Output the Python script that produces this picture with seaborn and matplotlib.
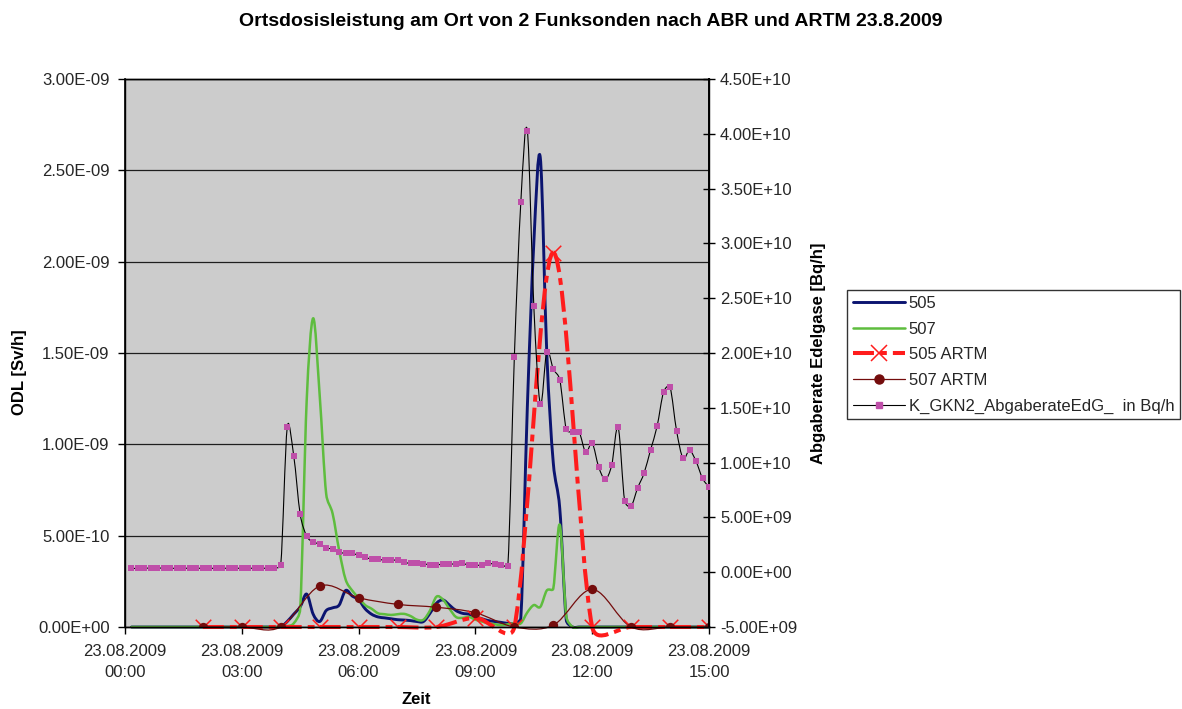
import numpy as np
import pandas as pd
import matplotlib
matplotlib.use("Agg")
import matplotlib.pyplot as plt
import matplotlib.dates as mdates
from matplotlib.path import Path
from matplotlib.patches import PathPatch
from matplotlib.lines import Line2D
from matplotlib.ticker import FuncFormatter, MultipleLocator
import seaborn as sns

# ---------------------------------------------------------------- data
# 10-minute readings of the two radio probes (nSv/h) and the release rate (1e10 Bq/h)
zeit_10min = pd.date_range("2009-08-23 00:10", "2009-08-23 15:00", freq="10min")

odl_505 = [
    0, 0, 0, 0, 0, 0, 0, 0, 0, 0, 0, 0,
    0, 0, 0, 0, 0, 0, 0, 0, 0, 0, 0, 0,
    0.03, 0.07, 0.11, 0.18, 0.07, 0.03, 0.09, 0.105, 0.12, 0.20, 0.17, 0.15,
    0.10, 0.07, 0.055, 0.05, 0.045, 0.04, 0.038, 0.035, 0.03, 0.03, 0.075, 0.13,
    0.148, 0.12, 0.09, 0.075, 0.07, 0.056, 0.045, 0.035, 0.03, 0.025, 0.02, 0.02,
    0.05, 1.20, 2.10, 2.57, 1.50, 0.90, 0.65, 0.04, 0, 0, 0, 0,
    0, 0, 0, 0, 0, 0, 0, 0, 0, 0, 0, 0,
    0, 0, 0, 0, 0, 0,
]

odl_507 = [
    0, 0, 0, 0, 0, 0, 0, 0, 0, 0, 0, 0,
    0, 0, 0, 0, 0, 0, 0, 0, 0, 0, 0, 0,
    0.005, 0.02, 0.10, 1.24, 1.69, 1.27, 0.73, 0.62, 0.42, 0.26, 0.20, 0.16,
    0.12, 0.10, 0.075, 0.07, 0.066, 0.07, 0.072, 0.06, 0.04, 0.04, 0.09, 0.166,
    0.15, 0.10, 0.055, 0.05, 0.055, 0.04, 0.03, 0.02, 0.015, 0.01, 0.015, 0.02,
    0.02, 0.08, 0.12, 0.11, 0.20, 0.21, 0.56, 0.06, 0, 0, 0, 0,
    0, 0, 0, 0, 0, 0, 0, 0, 0, 0, 0, 0,
    0, 0, 0, 0, 0, 0,
]

abgaberate = [
    0.035, 0.034, 0.036, 0.038, 0.039, 0.036, 0.036, 0.035, 0.036, 0.036, 0.036, 0.036,
    0.036, 0.035, 0.036, 0.036, 0.036, 0.036, 0.036, 0.036, 0.036, 0.036, 0.036, 0.066,
    1.322, 1.063, 0.528, 0.330, 0.273, 0.260, 0.224, 0.209, 0.180, 0.175, 0.172, 0.154,
    0.136, 0.120, 0.118, 0.109, 0.109, 0.109, 0.090, 0.081, 0.081, 0.078, 0.066, 0.063,
    0.078, 0.078, 0.072, 0.081, 0.063, 0.063, 0.066, 0.081, 0.072, 0.069, 0.057, 1.961,
    3.375, 4.030, 2.429, 1.535, 2.012, 1.854, 1.757, 1.304, 1.276, 1.276, 1.094, 1.176,
    0.960, 0.848, 0.975, 1.322, 0.652, 0.604, 0.768, 0.905, 1.118, 1.331, 1.644, 1.687,
    1.291, 1.039, 1.112, 1.012, 0.857, 0.775,
]

# hourly ARTM model results (nSv/h)
zeit_1h = pd.date_range("2009-08-23 02:00", "2009-08-23 15:00", freq="h")
artm_505 = [0, 0, 0, 0, 0, 0, 0, 0.05, 0, 2.05, 0, 0, 0, 0]
artm_507 = [0, 0, 0, 0.224, 0.16, 0.124, 0.108, 0.078, 0, 0.01, 0.206, 0, 0, 0]

NSV = 1e-9
E10 = 1e10

labels = ["505", "507", "505 ARTM", "507 ARTM", "K_GKN2_AbgaberateEdG_  in Bq/h"]

# ---------------------------------------------------------------- style
sns.set_style("white")
plt.rcParams["font.family"] = ["Liberation Sans", "DejaVu Sans"]

c_505 = "#0b1470"
c_507 = "#5ebd3e"
c_a505 = "#ff1c1c"
c_a507 = "#740c0c"
c_k = "#000000"
c_ksq = "#bf4fa9"
dash_a505 = (0, (5.2, 1.5, 1.7, 1.5))

W, H = 1182, 709
fig = plt.figure(figsize=(W / 100, H / 100), dpi=100)
fig.patch.set_facecolor("white")
ax = fig.add_axes([125 / W, 82 / H, 584 / W, 548 / H])
ax.set_facecolor("#cccccc")
ax2 = ax.twinx()

# markers through seaborn
sns.scatterplot(x=zeit_1h, y=np.array(artm_505) * NSV, marker="x", s=125,
                color=c_a505, linewidth=1.1, ax=ax, zorder=5, legend=False)
sns.scatterplot(x=zeit_1h, y=np.array(artm_507) * NSV, marker="o", s=45,
                color=c_a507, edgecolor=c_a507, linewidth=0, ax=ax, zorder=6, legend=False)
sns.scatterplot(x=zeit_10min, y=np.array(abgaberate) * E10, marker="s", s=16,
                color=c_ksq, edgecolor=c_ksq, linewidth=0, ax=ax2, zorder=6, legend=False)

t0 = pd.Timestamp("2009-08-23 00:00")
t1 = pd.Timestamp("2009-08-23 15:00")
ax.set_xlim(t0, t1)
ax.set_ylim(0, 3e-9)
ax2.set_ylim(-5e9, 4.5e10)


def smooth_curve(axis, times, values, restart=False, zorder=3, **style):
    """Excel-like smoothed line: cubic Bezier segments built in screen space."""
    xs = mdates.date2num(pd.DatetimeIndex(times).to_pydatetime())
    pts = axis.transData.transform(np.column_stack([xs, values]))
    inv = axis.transData.inverted()
    n = len(pts)
    segs = []
    for i in range(n - 1):
        p0, p1, p2 = pts[max(i - 1, 0)], pts[i], pts[i + 1]
        p3 = pts[min(i + 2, n - 1)]
        d12 = np.hypot(*(p2 - p1))
        d02 = np.hypot(*(p2 - p0))
        d13 = np.hypot(*(p3 - p1))
        f = 1 / 6 if d02 / 6 < d12 / 2 else d12 / (2 * d02)
        g = 1 / 6 if d13 / 6 < d12 / 2 else d12 / (2 * d13)
        segs.append([p1, p1 + f * (p2 - p0), p2 - g * (p3 - p1), p2])
    groups = [[s] for s in segs] if restart else [segs]
    for grp in groups:
        verts = [grp[0][0]]
        codes = [Path.MOVETO]
        for s in grp:
            verts += [s[1], s[2], s[3]]
            codes += [Path.CURVE4] * 3
        path = Path(inv.transform(np.array(verts)), codes)
        axis.add_patch(PathPatch(path, fill=False, transform=axis.transData,
                                 zorder=zorder, clip_on=False, **style))


smooth_curve(ax, zeit_10min, np.array(odl_505) * NSV, zorder=2.1,
             edgecolor=c_505, linewidth=2.1, capstyle="round", joinstyle="round")
smooth_curve(ax, zeit_10min, np.array(odl_507) * NSV, zorder=2.2,
             edgecolor=c_507, linewidth=1.8, capstyle="round", joinstyle="round")
smooth_curve(ax, zeit_1h, np.array(artm_505) * NSV, restart=True, zorder=2.3,
             edgecolor=c_a505, linewidth=2.9, linestyle=dash_a505,
             capstyle="butt", joinstyle="round")
smooth_curve(ax, zeit_1h, np.array(artm_507) * NSV, zorder=2.4,
             edgecolor=c_a507, linewidth=0.9, capstyle="round", joinstyle="round")
smooth_curve(ax2, zeit_10min, np.array(abgaberate) * E10, zorder=2.5,
             edgecolor=c_k, linewidth=0.8, capstyle="round", joinstyle="round")

# ---------------------------------------------------------------- axes
ax.yaxis.set_major_locator(MultipleLocator(0.5e-9))
ax2.yaxis.set_major_locator(MultipleLocator(5e9))
ax.yaxis.set_major_formatter(FuncFormatter(lambda v, p: f"{v:.2E}"))
ax2.yaxis.set_major_formatter(FuncFormatter(lambda v, p: f"{v:.2E}"))

xticks = pd.date_range(t0, t1, freq="3h")
ax.set_xticks(xticks, [t.strftime("%d.%m.%Y\n%H:%M") for t in xticks])
for lbl in ax.get_xticklabels():
    lbl.set_linespacing(1.55)

ax.yaxis.grid(True, color="#1e1e1e", linewidth=0.9)
ax.xaxis.grid(False)
ax.set_axisbelow(True)
ax2.grid(False)

ax.tick_params(axis="y", direction="out", length=5, width=1, labelsize=12, pad=6,
               left=True, color="black")
ax.tick_params(axis="x", direction="out", length=5, width=1, labelsize=12, pad=7,
               bottom=True, color="black")
ax2.tick_params(axis="y", direction="inout", length=8, width=1, labelsize=12, pad=4,
                right=True, color="black")

for a in (ax, ax2):
    for name, sp in a.spines.items():
        sp.set_color("black")
        sp.set_linewidth(1.0)
ax2.spines["right"].set_linewidth(1.4)
ax.spines["left"].set_linewidth(1.2)

# the axis titles are placed as figure texts below; unused axis texts stay hidden
for a in (ax, ax2):
    a.set_xlabel("")
    a.set_ylabel("")
    a.xaxis.label.set_visible(False)
    a.yaxis.label.set_visible(False)
    a.xaxis.get_offset_text().set_visible(False)
    a.yaxis.get_offset_text().set_visible(False)
    for t in (a.title, a._left_title, a._right_title):
        t.set_visible(False)

# ---------------------------------------------------------------- texts
fig.text(0.5, 1 - 22 / H, "Ortsdosisleistung am Ort von 2 Funksonden nach ABR und ARTM 23.8.2009",
         ha="center", va="center", fontsize=14, fontweight="bold", color="black")
fig.text(20 / W, 1 - 372 / H, "ODL [Sv/h]", rotation=90, ha="center", va="center",
         fontsize=12, fontweight="bold", color="black")
fig.text(818 / W, 1 - 353 / H, "Abgaberate Edelgase [Bq/h]", rotation=90,
         ha="center", va="center", fontsize=12, fontweight="bold", color="black")
fig.text(416 / W, 1 - 700 / H, "Zeit", ha="center", va="center",
         fontsize=12, fontweight="bold", color="black")

# ---------------------------------------------------------------- legend
handles = [
    Line2D([], [], color=c_505, lw=2.1),
    Line2D([], [], color=c_507, lw=1.8),
    Line2D([], [], color=c_a505, lw=2.9, linestyle=dash_a505, marker="x",
           markersize=11, markeredgewidth=1.1),
    Line2D([], [], color=c_a507, lw=0.9, marker="o", markersize=6.5),
    Line2D([], [], color=c_k, lw=0.8, marker="s", markersize=4,
           markerfacecolor=c_ksq, markeredgecolor=c_ksq),
]
leg = fig.legend(handles, labels, loc="upper left",
                 bbox_to_anchor=(847 / W, 1 - 290 / H), frameon=True, fancybox=False,
                 edgecolor="black", facecolor="white", fontsize=12,
                 handlelength=3.15, handletextpad=0.2, labelspacing=0.64,
                 borderpad=0.35, borderaxespad=0, numpoints=1)
leg.get_frame().set_linewidth(1.0)

fig.savefig("out.png", dpi=100)
